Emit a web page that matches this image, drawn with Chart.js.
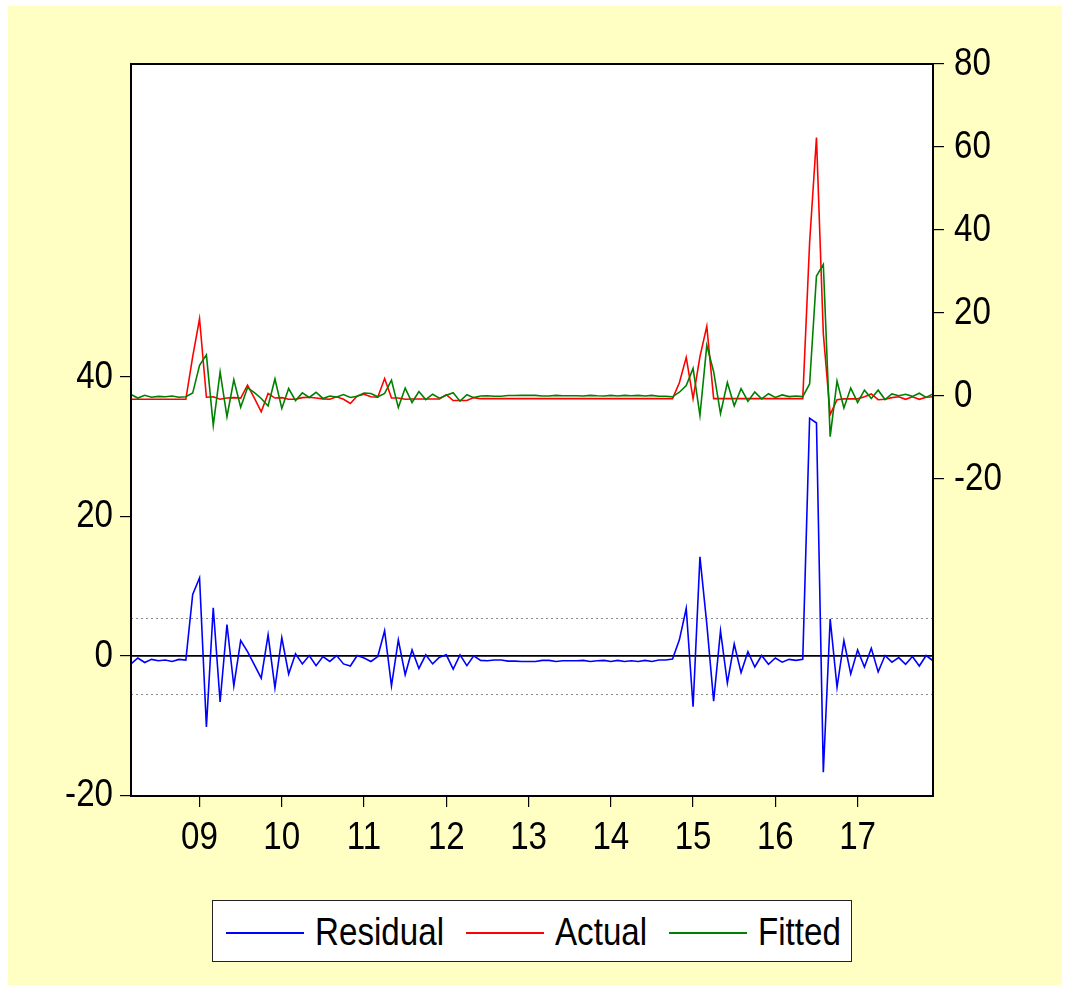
<!DOCTYPE html>
<html>
<head>
<meta charset="utf-8">
<script src="https://cdn.jsdelivr.net/npm/chart.js@4"></script>
<style>
  html, body { margin: 0; padding: 0; background: #ffffff; }
  #bg { position: absolute; left: 8px; top: 6px; width: 1054px; height: 979px; background: #FFFFC4; }
  #wrap { position: absolute; left: 0; top: 0; width: 1066px; height: 985px; }
  canvas { position: absolute; left: 0; top: 0; }
  #legend { position: absolute; left: 212px; top: 900px; width: 638px; height: 60px; border: 1px solid #222; background: #ffffff; }
  .ln { position: absolute; top: 31px; height: 2px; width: 78px; }
  .tx { position: absolute; top: 6px; font-family: 'Liberation Sans', Arial, sans-serif; font-size: 39px; line-height: 50px; color: #000; transform: scaleX(0.85); transform-origin: 0 50%; white-space: nowrap; }
</style>
</head>
<body>
<div id="bg"></div>
<div id="wrap">
  <canvas id="c" width="1066" height="985"></canvas>
  <div id="legend">
    <div class="ln" style="left:13px;background:#0000FF"></div><div class="tx" style="left:102px">Residual</div>
    <div class="ln" style="left:253px;background:#FF0000"></div><div class="tx" style="left:342px">Actual</div>
    <div class="ln" style="left:456px;background:#008000"></div><div class="tx" style="left:545px">Fitted</div>
  </div>
</div>
<script>
// ---- data (monthly, 2008M03 .. 2017M12) ----
const startYear = 2008;
const startMonth = 3;
const yearTicks = ['09','10','11','12','13','14','15','16','17'];
const leftTicks = [-20, 0, 20, 40];
const rightTicks = [-20, 0, 20, 40, 60, 80];
const residualStd = 5.5;

const residual = [
 -1.15,-0.3,-0.95,-0.5,-0.7,-0.6,-0.8,-0.5,-0.6,8.8,
 11.2,-10.2,6.9,-6.6,4.5,-4.3,2.2,0.6,-1.3,-3.2,
 3.0,-4.6,2.6,-2.6,0.3,-1.15,0.05,-1.4,-0.1,-0.8,
 0.05,-1.15,-1.45,0.05,-0.3,-0.8,-0.1,3.6,-4.3,2.3,
 -2.7,0.85,-1.8,0.15,-1.15,-0.2,0.15,-1.9,0.15,-1.4,
 0.0,-0.65,-0.7,-0.6,-0.6,-0.75,-0.75,-0.8,-0.8,-0.8,
 -0.65,-0.65,-0.8,-0.7,-0.7,-0.7,-0.65,-0.8,-0.7,-0.65,
 -0.8,-0.65,-0.8,-0.7,-0.8,-0.65,-0.8,-0.6,-0.6,-0.45,
 2.3,6.8,-7.3,14.2,4.6,-6.5,3.6,-3.9,1.7,-2.4,
 0.6,-1.6,0.05,-1.2,-0.3,-0.9,-0.5,-0.65,-0.5,34.1,
 33.4,-16.7,5.3,-4.5,2.2,-2.6,0.85,-1.6,1.1,-2.3,
 0.05,-0.9,-0.25,-1.2,-0.1,-1.45,0.05,-0.7
];

const actual = [
 -0.8,-0.8,-0.8,-0.8,-0.8,-0.8,-0.8,-0.8,-0.8,9.5,
 18.6,-0.3,-0.2,-0.8,-0.5,-0.4,-0.5,2.6,-0.5,-3.8,
 0.6,-0.5,-0.4,-0.8,-0.8,-0.4,-0.3,-0.5,-0.7,-0.8,
 -0.2,-0.8,-1.8,0.0,0.4,-0.2,-0.3,4.2,-0.5,-0.5,
 -0.8,-0.72,-0.72,-0.72,-0.72,-0.72,0.3,-1.1,-1.1,-1.1,
 -0.4,-0.65,-0.65,-0.65,-0.65,-0.65,-0.65,-0.65,-0.65,-0.65,
 -0.65,-0.65,-0.65,-0.65,-0.65,-0.65,-0.65,-0.65,-0.65,-0.65,
 -0.65,-0.65,-0.65,-0.65,-0.65,-0.65,-0.65,-0.65,-0.65,-0.65,
 3.2,9.3,-0.65,9.5,16.8,-0.65,-0.65,-0.65,-0.65,-0.65,
 -0.65,-0.65,-0.65,-0.65,-0.65,-0.65,-0.65,-0.65,-0.65,37.0,
 62.3,15.0,-4.5,-0.9,-0.7,-0.7,-0.7,-0.2,0.5,-0.9,
 -0.8,-0.4,-0.2,-0.8,-0.2,-0.8,-0.3,-0.2
];

const fitted = [
 0.35,-0.5,0.15,-0.3,-0.1,-0.2,0.0,-0.3,-0.2,0.7,
 7.4,9.9,-7.1,5.8,-5.0,3.9,-2.7,2.0,0.8,-0.6,
 -2.4,4.1,-3.0,1.8,-1.1,0.75,-0.35,0.9,-0.6,0.0,
 -0.25,0.35,-0.35,-0.05,0.7,0.6,-0.2,0.6,3.8,-2.8,
 1.9,-1.57,1.08,-0.87,0.43,-0.52,0.15,0.8,-1.25,0.3,
 -0.4,0.0,0.05,-0.05,-0.05,0.1,0.1,0.15,0.15,0.15,
 0.0,0.0,0.15,0.05,0.05,0.05,0.0,0.15,0.05,0.0,
 0.15,0.0,0.15,0.05,0.15,0.0,0.15,-0.05,-0.05,-0.2,
 0.9,2.5,6.65,-4.7,12.2,5.85,-4.25,3.25,-2.35,1.75,
 -1.25,0.95,-0.7,0.55,-0.35,0.25,-0.15,0.0,-0.15,2.9,
 28.9,31.7,-9.8,3.6,-2.9,1.9,-1.55,1.4,-0.6,1.4,
 -0.85,0.5,0.05,0.4,-0.1,0.65,-0.35,0.5
];

// month labels
const months = residual.map((_, i) => {
  const m0 = startMonth - 1 + i;
  const y = startYear + Math.floor(m0 / 12);
  const m = (m0 % 12) + 1;
  return y + 'M' + String(m).padStart(2, '0');
});

const FONT = "'Liberation Sans', Arial, sans-serif";
const NARROW = 0.85;

// narrow (condensed) rendering of the axis labels, like the original's narrow font
const canvas = document.getElementById('c');
const ctx2d = canvas.getContext('2d');
const origFillText = ctx2d.fillText.bind(ctx2d);
ctx2d.fillText = function (text, x, y, maxWidth) {
  this.save();
  this.translate(x, y);
  this.scale(NARROW, 1);
  if (maxWidth === undefined) origFillText(text, 0, 0);
  else origFillText(text, 0, 0, maxWidth / NARROW);
  this.restore();
};

const framePlugin = {
  id: 'frame',
  beforeDraw(chart) {
    const { ctx, chartArea: a } = chart;
    ctx.save();
    ctx.fillStyle = '#ffffff';
    ctx.fillRect(a.left, a.top, a.right - a.left, a.bottom - a.top);
    ctx.restore();
  },
  beforeDatasetsDraw(chart) {
    const { ctx, chartArea: a, scales } = chart;
    const y = scales.y;
    ctx.save();
    ctx.strokeStyle = '#8a8a8a';
    ctx.lineWidth = 1;
    ctx.setLineDash([2, 3]);
    [residualStd, -residualStd].forEach(v => {
      const py = Math.round(y.getPixelForValue(v)) + 0.5;
      ctx.beginPath(); ctx.moveTo(a.left, py); ctx.lineTo(a.right, py); ctx.stroke();
    });
    ctx.setLineDash([]);
    ctx.strokeStyle = '#000000';
    ctx.lineWidth = 1.6;
    const pz = y.getPixelForValue(0);
    ctx.beginPath(); ctx.moveTo(a.left, pz); ctx.lineTo(a.right, pz); ctx.stroke();
    ctx.restore();
  },
  afterDraw(chart) {
    const { ctx, chartArea: a } = chart;
    ctx.save();
    ctx.strokeStyle = '#000000';
    ctx.lineWidth = 2;
    ctx.strokeRect(a.left, a.top, a.right - a.left, a.bottom - a.top);
    ctx.restore();
  }
};

new Chart(canvas, {
  type: 'line',
  data: {
    labels: months,
    datasets: [
      { label: 'Residual', data: residual, yAxisID: 'y', borderColor: '#0000FF', borderWidth: 1.6, order: 3 },
      { label: 'Actual', data: actual, yAxisID: 'y1', borderColor: '#FF0000', borderWidth: 1.6, order: 2 },
      { label: 'Fitted', data: fitted, yAxisID: 'y1', borderColor: '#008000', borderWidth: 1.6, order: 1 }
    ]
  },
  options: {
    responsive: false,
    animation: false,
    devicePixelRatio: 1,
    layout: { padding: { top: 64, left: 0, right: 0, bottom: 115 } },
    elements: { point: { radius: 0 }, line: { tension: 0 } },
    plugins: { legend: { display: false }, tooltip: { enabled: false } },
    scales: {
      x: {
        type: 'category',
        offset: false,
        border: { display: false },
        grid: { drawOnChartArea: false, drawTicks: true, tickLength: 11, color: '#000', lineWidth: 1.2 },
        afterBuildTicks(scale) {
          scale.ticks = scale.ticks.filter(t => months[t.value].endsWith('M01'));
        },
        afterFit(scale) { scale.height = 74; },
        ticks: {
          autoSkip: false, maxRotation: 0, minRotation: 0, padding: 8,
          color: '#000', font: { family: FONT, size: 39 },
          callback(value) {
            const k = Number(months[value].slice(0, 4)) - 2009;
            return yearTicks[k];
          }
        }
      },
      y: {
        position: 'left',
        min: -20.1, max: 84.9,
        border: { display: false },
        grid: { drawOnChartArea: false, drawTicks: true, tickLength: 11, color: '#000', lineWidth: 1.2 },
        afterBuildTicks(scale) { scale.ticks = leftTicks.map(v => ({ value: v })); },
        afterFit(scale) { scale.width = 131; },
        ticks: { padding: 7, color: '#000', font: { family: FONT, size: 39 }, callback: v => String(v) }
      },
      y1: {
        position: 'right',
        min: -96.4, max: 80,
        border: { display: false },
        grid: { drawOnChartArea: false, drawTicks: true, tickLength: 11, color: '#000', lineWidth: 1.2 },
        afterBuildTicks(scale) { scale.ticks = rightTicks.map(v => ({ value: v })); },
        afterFit(scale) { scale.width = 133; },
        ticks: { padding: 10, color: '#000', font: { family: FONT, size: 39 }, callback: v => String(v) }
      }
    }
  },
  plugins: [framePlugin]
});
</script>
</body>
</html>
